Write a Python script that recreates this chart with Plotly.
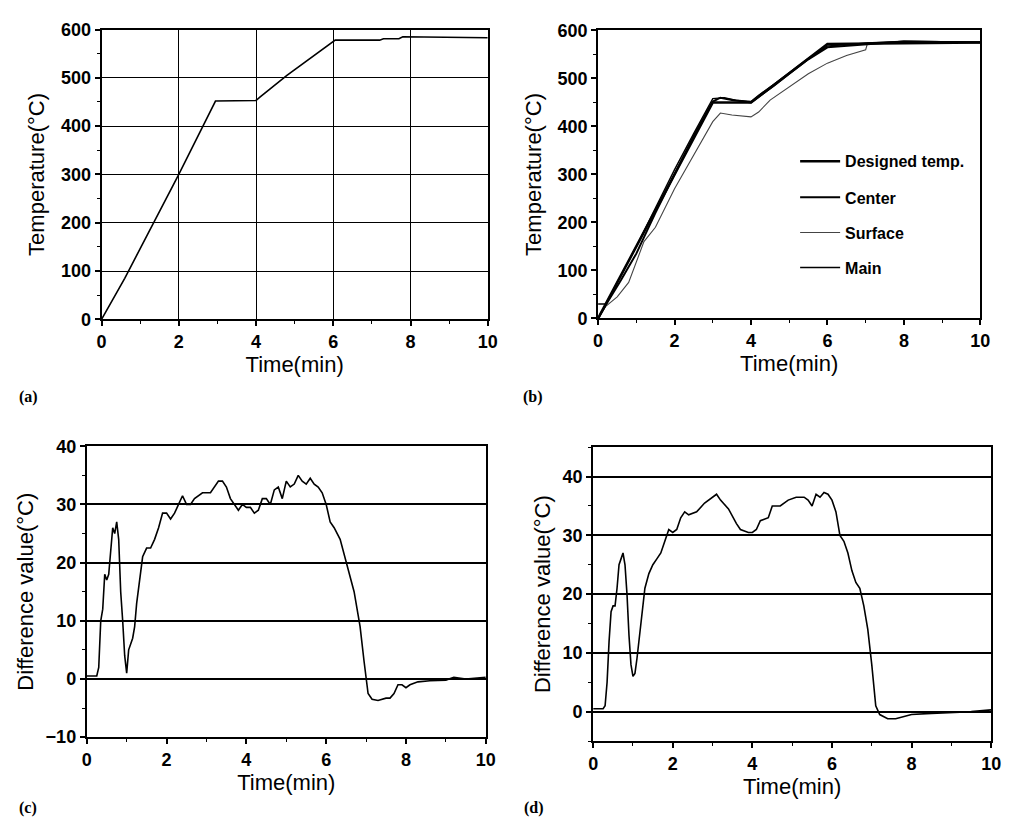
import plotly.graph_objects as go

W, H = 1013, 833

# ---------------- data ----------------
# (a) designed heating schedule
a_time = [0, 0.6, 2.0, 2.95, 4.0, 4.1, 4.8, 6.0, 6.05, 7.2, 7.3, 7.7, 7.8, 10]
a_temp = [0, 85, 300, 452, 453, 460, 505, 575, 578, 578, 581, 581, 585, 583]

# (b) measured temperatures
b_des_t = [0, 3.0, 4.0, 6.0, 10]
b_des_y = [0, 450, 450, 572, 575]
b_cen_t = [0, 0.2, 0.6, 1.0, 1.5, 2.0, 2.5, 3.0, 3.2, 3.5, 4.0, 4.2, 4.6, 5.0, 5.5, 6.0, 6.5, 7.0, 8.0, 10]
b_cen_y = [0, 28, 80, 135, 220, 300, 380, 452, 460, 455, 450, 462, 485, 510, 540, 565, 568, 572, 577, 575]
b_sur_t = [0, 0.2, 0.5, 0.8, 1.2, 1.5, 2.0, 2.5, 3.0, 3.2, 3.5, 4.0, 4.2, 4.5, 5.0, 5.5, 6.0, 6.5, 7.0, 7.05, 8.0, 10]
b_sur_y = [0, 25, 45, 75, 160, 190, 270, 340, 410, 428, 424, 420, 430, 455, 482, 510, 532, 548, 560, 574, 578, 576]
b_main_t = [0, 0.2, 0.6, 1.0, 1.5, 2.0, 2.5, 3.0, 3.3, 3.6, 4.0, 4.2, 4.6, 5.0, 5.5, 6.0, 6.5, 7.0, 8.0, 10]
b_main_y = [30, 30, 90, 150, 230, 310, 385, 458, 460, 455, 452, 465, 488, 512, 542, 568, 570, 574, 577, 576]

# (c) difference value, case 1
c_time = [0, 0.25, 0.3, 0.35, 0.4, 0.45, 0.5, 0.55, 0.6, 0.65, 0.7, 0.75, 0.8, 0.85, 0.9, 0.95,
          1.0, 1.05, 1.15, 1.2, 1.25, 1.3, 1.4, 1.5, 1.6, 1.7, 1.8, 1.9, 2.0, 2.1, 2.2, 2.3, 2.4,
          2.5, 2.6, 2.7, 2.9, 3.1, 3.2, 3.3, 3.4, 3.5, 3.6, 3.7, 3.8, 3.9, 4.0, 4.1, 4.2, 4.3, 4.4,
          4.5, 4.6, 4.7, 4.8, 4.9, 5.0, 5.1, 5.2, 5.3, 5.4, 5.5, 5.6, 5.7, 5.8, 5.9, 6.0, 6.1, 6.2,
          6.35, 6.5, 6.6, 6.7, 6.8, 6.85, 6.95, 7.0, 7.05, 7.15, 7.3, 7.5, 7.6, 7.7, 7.8, 7.9, 8.0,
          8.1, 8.3, 8.6, 9.0, 9.2, 9.5, 10]
c_diff = [0.5, 0.5, 2, 10, 12, 18, 17, 18, 22, 26, 25, 27, 24, 15, 10, 4,
          1, 5, 7, 9, 13, 16, 21, 22.5, 22.5, 24, 26, 28.5, 28.5, 27.5, 28.5, 30, 31.5,
          30, 30, 31, 32, 32, 33, 34, 34, 33, 31, 30, 29, 30, 29.5, 29.5, 28.5, 29, 31,
          31, 30, 32.5, 33, 31, 34, 33, 33.5, 35, 34, 33.5, 34.5, 33.5, 33, 32, 30, 27, 26,
          24, 20, 17.5, 15, 11, 9, 3, 0, -2.5, -3.5, -3.7, -3.3, -3.3, -2.5, -1, -1, -1.5,
          -1, -0.5, -0.3, -0.2, 0.3, 0, 0.3]

# (d) difference value, case 2
d_time = [0, 0.25, 0.3, 0.35, 0.4, 0.45, 0.5, 0.55, 0.6, 0.65, 0.7, 0.75, 0.8, 0.85, 0.9, 0.95,
          1.0, 1.05, 1.1, 1.2, 1.3, 1.4, 1.5, 1.6, 1.7, 1.8, 1.9, 2.0, 2.1, 2.2, 2.3, 2.4, 2.6,
          2.8, 3.0, 3.1, 3.2, 3.4, 3.6, 3.7, 3.9, 4.0, 4.1, 4.2, 4.4, 4.5, 4.7, 4.9, 5.1, 5.3,
          5.4, 5.5, 5.6, 5.7, 5.8, 5.9, 6.0, 6.1, 6.2, 6.3, 6.4, 6.5, 6.6, 6.7, 6.8, 6.9, 7.0,
          7.05, 7.1, 7.2, 7.4, 7.6, 7.8, 8.0, 8.5, 9.0, 9.5, 10]
d_diff = [0.5, 0.5, 1, 5, 12, 17, 18, 18, 21, 25, 26, 27, 25, 20, 13, 8,
          6, 6.5, 9, 15, 21, 23.5, 25, 26, 27, 29, 31, 30.5, 31, 33, 34, 33.5, 34,
          35.5, 36.5, 37, 36, 34.5, 32, 31, 30.5, 30.5, 31, 32.5, 33, 35, 35, 36, 36.5, 36.5,
          36, 35, 37, 36.5, 37.3, 37, 36, 34, 30, 29, 27, 24, 22, 21, 18, 14, 8,
          4, 1, -0.5, -1.2, -1.2, -0.8, -0.5, -0.3, -0.2, 0, 0.3]

x_ticks = [0, 2, 4, 6, 8, 10]
a_yticks = [0, 100, 200, 300, 400, 500, 600]
c_yticks = [-10, 0, 10, 20, 30, 40]
d_yticks = [0, 10, 20, 30, 40]

# ---------------- figure ----------------
def px_x(p):
    return p / W

def px_y(p):
    return 1 - p / H

fig = go.Figure()
black = "black"

fig.add_trace(go.Scatter(x=a_time, y=a_temp, xaxis="x", yaxis="y", mode="lines",
                         line=dict(color=black, width=1.6), showlegend=False))

fig.add_trace(go.Scatter(x=b_sur_t, y=b_sur_y, xaxis="x2", yaxis="y2", mode="lines",
                         name="Surface", legend="legend3",
                         line=dict(color="#444", width=1.1)))
fig.add_trace(go.Scatter(x=b_main_t, y=b_main_y, xaxis="x2", yaxis="y2", mode="lines",
                         name="Main", legend="legend4",
                         line=dict(color=black, width=1.4)))
fig.add_trace(go.Scatter(x=b_cen_t, y=b_cen_y, xaxis="x2", yaxis="y2", mode="lines",
                         name="Center", legend="legend2",
                         line=dict(color=black, width=2)))
fig.add_trace(go.Scatter(x=b_des_t, y=b_des_y, xaxis="x2", yaxis="y2", mode="lines",
                         name="Designed temp.", legend="legend",
                         line=dict(color=black, width=2.6)))

fig.add_trace(go.Scatter(x=c_time, y=c_diff, xaxis="x3", yaxis="y3", mode="lines",
                         line=dict(color=black, width=1.6), showlegend=False))
fig.add_trace(go.Scatter(x=d_time, y=d_diff, xaxis="x4", yaxis="y4", mode="lines",
                         line=dict(color=black, width=1.6), showlegend=False))

tickfont = dict(family="Liberation Sans, Arial", size=18, color=black, weight="bold")
titlefont = dict(family="Liberation Sans, Arial", size=22, color=black)

def xax(domain, anchor, grid=False, standoff=2):
    return dict(domain=domain, anchor=anchor, range=[0, 10], tickvals=x_ticks,
                ticks="outside", ticklen=5, tickwidth=1.5, tickcolor=black,
                minor=dict(dtick=1, ticks="outside", ticklen=3, tickwidth=1, tickcolor=black),
                showline=True, linecolor=black, linewidth=2, mirror=True,
                showgrid=grid, gridcolor=black, gridwidth=1.3, zeroline=False,
                tickfont=tickfont,
                title=dict(text="Time(min)", font=titlefont, standoff=standoff))

def yax(domain, anchor, rng, ticks, minor, title, grid=True, gw=1.3, standoff=10):
    return dict(domain=domain, anchor=anchor, range=rng, tickvals=ticks,
                ticks="outside", ticklen=5, tickwidth=1.5, tickcolor=black,
                minor=dict(dtick=minor, ticks="outside", ticklen=3, tickwidth=1, tickcolor=black),
                showline=True, linecolor=black, linewidth=2, mirror=True,
                showgrid=grid, gridcolor=black, gridwidth=gw, zeroline=False,
                tickfont=tickfont,
                title=dict(text=title, font=titlefont, standoff=standoff))

leg_base = dict(xanchor="left", yanchor="middle", bgcolor="rgba(0,0,0,0)",
                font=dict(family="Liberation Sans, Arial", size=16, color=black, weight="bold"),
                itemwidth=40)
leg_x = px_x(802)

fig.update_layout(
    width=W, height=H, autosize=False,
    margin=dict(l=0, r=0, t=0, b=0),
    paper_bgcolor="white", plot_bgcolor="white",
    xaxis=xax([px_x(98), px_x(490)], "y", grid=True),
    yaxis=yax([px_y(317), px_y(20)], "x", [0, 600], a_yticks, 50, "Temperature(°C)"),
    xaxis2=xax([px_x(602), px_x(990)], "y2"),
    yaxis2=yax([px_y(316), px_y(21)], "x2", [0, 600], a_yticks, 50, "Temperature(°C)", grid=False),
    xaxis3=xax([px_x(83), px_x(488)], "y3", standoff=0),
    yaxis3=yax([px_y(745), px_y(447)], "x3", [-10, 40], c_yticks, 5, "Difference value(°C)", gw=2, standoff=6),
    xaxis4=xax([px_x(597), px_x(1001)], "y4", standoff=0),
    yaxis4=yax([px_y(749), px_y(448)], "x4", [-5, 45], d_yticks, 5, "Difference value(°C)", gw=2, standoff=6),
    legend=dict(leg_base, x=leg_x, y=px_y(155)),
    legend2=dict(leg_base, x=leg_x, y=px_y(192)),
    legend3=dict(leg_base, x=leg_x, y=px_y(228)),
    legend4=dict(leg_base, x=leg_x, y=px_y(264)),
    showlegend=True,
)

lab_font = dict(family="Liberation Serif, Times New Roman", size=16, color=black, weight="bold")
for txt, x, y in [("(a)", 12, 397), ("(b)", 524, 397), ("(c)", 12, 818), ("(d)", 525, 818)]:
    fig.add_annotation(text=txt, x=px_x(x), y=px_y(y), xref="paper", yref="paper",
                       xanchor="left", yanchor="middle", showarrow=False, font=lab_font)

fig.write_html("out.html")
